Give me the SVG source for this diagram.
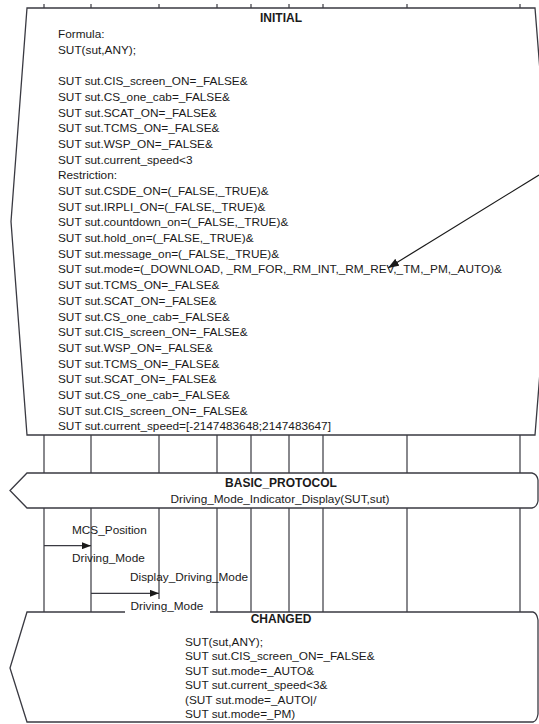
<svg xmlns="http://www.w3.org/2000/svg" width="539" height="724" viewBox="0 0 539 724">
<defs>
<style>
.ln{stroke:#3a3a42;stroke-width:1.2;fill:none}
.box{stroke:#3a3a42;stroke-width:1.3;fill:#ffffff}
.t{font-family:"Liberation Sans",Arial,sans-serif;font-size:11.8px;fill:#1a1a1a}
.b{font-family:"Liberation Sans",Arial,sans-serif;font-size:12px;font-weight:bold;fill:#1a1a1a}
</style>
<marker id="ah" markerWidth="9" markerHeight="7" refX="9" refY="3.5" orient="auto" markerUnits="userSpaceOnUse">
<path d="M0,0 L9,3.5 L0,7 Z" fill="#1a1a1a"/>
</marker>
<marker id="ah2" markerWidth="11" markerHeight="8" refX="11" refY="4" orient="auto" markerUnits="userSpaceOnUse">
<path d="M0,0 L11,4 L0,8 Z" fill="#1a1a1a"/>
</marker>
</defs>
<rect width="539" height="724" fill="#ffffff"/>

<g id="lifelines" class="ln">
<path d="M44,4V8 M91,4V8 M159,4V8 M217,4V8 M251,4V8 M289,4V8 M323,4V8 M407,4V8 M520,4V8"/>
<path d="M44,435V473 M91,435V473 M159,435V473 M217,435V473 M251,435V473 M289,435V473 M323,435V473 M407,435V473 M520,435V473"/>
<path d="M44,508V612 M91,508V612 M159,508V612 M217,508V612 M251,508V612 M289,508V612 M323,508V612 M407,508V612 M520,508V612"/>
</g>

<g id="initial">
<path class="box" d="M27,8 L535,8 L552,221.5 L535,435 L27,435 L11,221.5 Z"/>
<text class="b" x="281" y="22" text-anchor="middle">INITIAL</text>
<text class="t" x="58" y="38.3">
<tspan x="58">Formula:</tspan>
<tspan x="58" dy="15.68">SUT(sut,ANY);</tspan>
<tspan x="58" dy="31.36">SUT sut.CIS_screen_ON=_FALSE&amp;</tspan>
<tspan x="58" dy="15.68">SUT sut.CS_one_cab=_FALSE&amp;</tspan>
<tspan x="58" dy="15.68">SUT sut.SCAT_ON=_FALSE&amp;</tspan>
<tspan x="58" dy="15.68">SUT sut.TCMS_ON=_FALSE&amp;</tspan>
<tspan x="58" dy="15.68">SUT sut.WSP_ON=_FALSE&amp;</tspan>
<tspan x="58" dy="15.68">SUT sut.current_speed&lt;3</tspan>
<tspan x="58" dy="15.68">Restriction:</tspan>
<tspan x="58" dy="15.68">SUT sut.CSDE_ON=(_FALSE,_TRUE)&amp;</tspan>
<tspan x="58" dy="15.68">SUT sut.IRPLI_ON=(_FALSE,_TRUE)&amp;</tspan>
<tspan x="58" dy="15.68">SUT sut.countdown_on=(_FALSE,_TRUE)&amp;</tspan>
<tspan x="58" dy="15.68">SUT sut.hold_on=(_FALSE,_TRUE)&amp;</tspan>
<tspan x="58" dy="15.68">SUT sut.message_on=(_FALSE,_TRUE)&amp;</tspan>
<tspan x="58" dy="15.68">SUT sut.mode=(_DOWNLOAD, _RM_FOR,_RM_INT,_RM_REV,_TM,_PM,_AUTO)&amp;</tspan>
<tspan x="58" dy="15.68">SUT sut.TCMS_ON=_FALSE&amp;</tspan>
<tspan x="58" dy="15.68">SUT sut.SCAT_ON=_FALSE&amp;</tspan>
<tspan x="58" dy="15.68">SUT sut.CS_one_cab=_FALSE&amp;</tspan>
<tspan x="58" dy="15.68">SUT sut.CIS_screen_ON=_FALSE&amp;</tspan>
<tspan x="58" dy="15.68">SUT sut.WSP_ON=_FALSE&amp;</tspan>
<tspan x="58" dy="15.68">SUT sut.TCMS_ON=_FALSE&amp;</tspan>
<tspan x="58" dy="15.68">SUT sut.SCAT_ON=_FALSE&amp;</tspan>
<tspan x="58" dy="15.68">SUT sut.CS_one_cab=_FALSE&amp;</tspan>
<tspan x="58" dy="15.68">SUT sut.CIS_screen_ON=_FALSE&amp;</tspan>
<tspan x="58" dy="15.68">SUT sut.current_speed=[-2147483648;2147483647]</tspan>
</text>
</g>

<g id="basic_protocol">
<path class="box" d="M27,473 L532,473 Q537,474 538,480 L538,501 Q537,507 532,508 L27,508 L10,490.5 Z"/>
<text class="b" x="281" y="487" text-anchor="middle">BASIC_PROTOCOL</text>
<text class="t" x="280" y="503" text-anchor="middle">Driving_Mode_Indicator_Display(SUT,sut)</text>
</g>

<g id="changed">
<path class="box" d="M27,612 L533,612 Q537,613 538,620 L538,714 Q537,721 533,722 L27,722 L10,668 Z"/>
<text class="b" x="281" y="623" text-anchor="middle">CHANGED</text>
<text class="t" x="185" y="646">
<tspan x="185">SUT(sut,ANY);</tspan>
<tspan x="185" dy="14.45">SUT sut.CIS_screen_ON=_FALSE&amp;</tspan>
<tspan x="185" dy="14.45">SUT sut.mode=_AUTO&amp;</tspan>
<tspan x="185" dy="14.45">SUT sut.current_speed&lt;3&amp;</tspan>
<tspan x="185" dy="14.45">(SUT sut.mode=_AUTO|/</tspan>
<tspan x="185" dy="14.45">SUT sut.mode=_PM)</tspan>
</text>
</g>

<g id="connectors">
<line class="ln" x1="44" y1="545.7" x2="91" y2="545.7" marker-end="url(#ah)"/>
<line class="ln" x1="91" y1="593.3" x2="159" y2="593.3" marker-end="url(#ah)"/>
<line x1="539" y1="175" x2="388" y2="268" stroke="#1a1a1a" stroke-width="1.2" marker-end="url(#ah2)"/>
</g>

<g id="labels">
<text class="t" x="72" y="534">MCS_Position</text>
<text class="t" x="72" y="562">Driving_Mode</text>
<text class="t" x="130" y="581">Display_Driving_Mode</text>
<rect x="125" y="599" width="85" height="15" fill="#ffffff"/>
<text class="t" x="130.5" y="610">Driving_Mode</text>
</g>
</svg>
